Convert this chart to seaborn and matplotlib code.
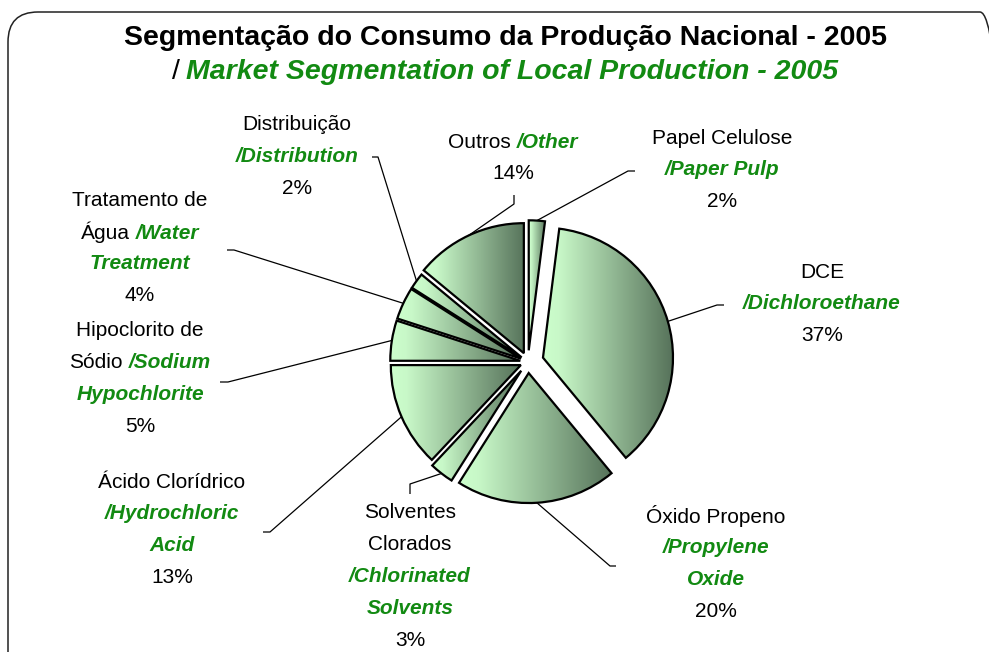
import numpy as np
import matplotlib
matplotlib.use("Agg")
import matplotlib.pyplot as plt
import seaborn as sns
from matplotlib.offsetbox import TextArea, HPacker, AnnotationBbox
from matplotlib.patches import FancyBboxPatch
from matplotlib.colors import LinearSegmentedColormap

sns.set_theme(style="white")
plt.rcParams["font.family"] = ["Liberation Sans", "DejaVu Sans"]

# ---------------- data ----------------
categories_pt = ["Papel Celulose", "DCE", "Óxido Propeno", "Solventes Clorados",
                 "Ácido Clorídrico", "Hipoclorito de Sódio", "Tratamento de Água",
                 "Distribuição", "Outros"]
categories_en = ["Paper Pulp", "Dichloroethane", "Propylene Oxide", "Chlorinated Solvents",
                 "Hydrochloric Acid", "Sodium Hypochlorite", "Water Treatment",
                 "Distribution", "Other"]
values = [2, 37, 20, 3, 13, 5, 4, 2, 14]
pct_labels = ["2%", "37%", "20%", "3%", "13%", "5%", "4%", "2%", "14%"]
title_pt = "Segmentação do Consumo da Produção Nacional - 2005"
title_en = "Market Segmentation of Local Production - 2005"

# ---------------- style ----------------
explode_frac = [0.09, 0.12, 0.085, 0.085, 0.06, 0.06, 0.06, 0.06, 0.075]
GREEN = "#128a12"
LBL = 15
TTL = 20.5
W, H = 989, 652
cmap = LinearSegmentedColormap.from_list("g", [(0, "#ccffcc"), (0.12, "#c8f8c8"), (1, "#56725a")])

fig = plt.figure(figsize=(W / 100, H / 100), dpi=100)
fig.patch.set_facecolor("white")
ax = fig.add_axes([0, 0, 1, 1])

cx, cy, R = 528, H - 362, 130
wedges, _ = ax.pie(values, explode=[e * R for e in explode_frac], startangle=90,
                   counterclock=False, center=(cx, cy), radius=R, frame=True,
                   wedgeprops=dict(facecolor="none", edgecolor="black",
                                   linewidth=1.6, zorder=3))

grad = np.linspace(0, 1, 256).reshape(1, -1)
for w in wedges:
    path = w.get_patch_transform().transform_path(w.get_path())
    ext = path.get_extents()
    im = ax.imshow(grad, extent=(ext.x0, ext.x1, ext.y0, ext.y1), cmap=cmap,
                   aspect="auto", interpolation="bilinear", origin="lower", zorder=2)
    im.set_clip_path(w)


def seg(text, style, size=LBL):
    if style == "g":
        return TextArea(text, textprops=dict(color=GREEN, fontsize=size,
                                             fontweight="bold", fontstyle="italic"))
    if style == "b":
        return TextArea(text, textprops=dict(color="black", fontsize=size, fontweight="bold"))
    return TextArea(text, textprops=dict(color="black", fontsize=size))


def put_line(x, y, parts, size=LBL, sep=4):
    box = HPacker(children=[seg(t, s, size) for t, s in parts], sep=sep,
                  align="baseline", pad=0)
    ab = AnnotationBbox(box, (x, H - y), xycoords="data", frameon=False,
                        box_alignment=(0.5, 0.5), pad=0)
    ax.add_artist(ab)


def put_label(x, y, lines, pitch=31.8):
    for i, parts in enumerate(lines):
        put_line(x, y + i * pitch, parts)


# label layout: (x, y of first line, lines, leader points near label)
label_specs = [
    (722, 138, [[(categories_pt[0], "n")], [("/" + categories_en[0], "g")], [(pct_labels[0], "n")]],
     [(635, 171), (628, 171)]),
    (822, 272, [[(categories_pt[1], "n")], [("/" + categories_en[1], "g")], [(pct_labels[1], "n")]],
     [(724, 305), (717, 305)]),
    (716, 516, [[(categories_pt[2], "n")], [("/Propylene", "g")], [("Oxide", "g")], [(pct_labels[2], "n")]],
     [(616, 566), (610, 566)]),
    (410, 513, [[("Solventes", "n")], [("Clorados", "n")], [("/Chlorinated", "g")], [("Solvents", "g")],
                [(pct_labels[3], "n")]],
     [(410, 494), (410, 484)]),
    (172, 482, [[(categories_pt[4], "n")], [("/Hydrochloric", "g")], [("Acid", "g")], [(pct_labels[4], "n")]],
     [(263, 532), (270, 532)]),
    (140, 331, [[("Hipoclorito de", "n")], [("Sódio", "n"), ("/Sodium", "g")], [("Hypochlorite", "g")],
                [(pct_labels[5], "n")]],
     [(220, 382), (228, 382)]),
    (140, 200, [[("Tratamento de", "n")], [("Água", "n"), ("/Water", "g")], [("Treatment", "g")],
                [(pct_labels[6], "n")]],
     [(227, 250), (234, 250)]),
    (297, 125, [[(categories_pt[7], "n")], [("/" + categories_en[7], "g")], [(pct_labels[7], "n")]],
     [(372, 157), (378, 157)]),
    (513, 142, [[(categories_pt[8], "n"), ("/" + categories_en[8], "g")], [(pct_labels[8], "n")]],
     [(514, 195), (514, 204)]),
]

for w, (lx, ly, lines, pts) in zip(wedges, label_specs):
    put_label(lx, ly, lines)
    th = np.deg2rad((w.theta1 + w.theta2) / 2)
    ex = w.center[0] + w.r * np.cos(th)
    ey = w.center[1] + w.r * np.sin(th)
    xs = [p[0] for p in pts] + [ex]
    ys = [H - p[1] for p in pts] + [ey]
    ax.plot(xs, ys, color="black", lw=0.9, zorder=1, solid_capstyle="butt")

# title
put_line(506, 38, [(title_pt, "b")], size=TTL)
put_line(505, 72, [("/", "n"), (title_en, "g")], size=TTL, sep=5)

# rounded frame
frame = FancyBboxPatch((8, -60), 1002, H - 12 + 60,
                       boxstyle="round,pad=0,rounding_size=30",
                       fc="none", ec="#222222", lw=1.1, clip_on=False, zorder=0)
ax.add_patch(frame)

ax.set_xlim(0, W)
ax.set_ylim(0, H)
ax.set_aspect("auto")
ax.axis("off")

fig.savefig("out.png", dpi=100)
